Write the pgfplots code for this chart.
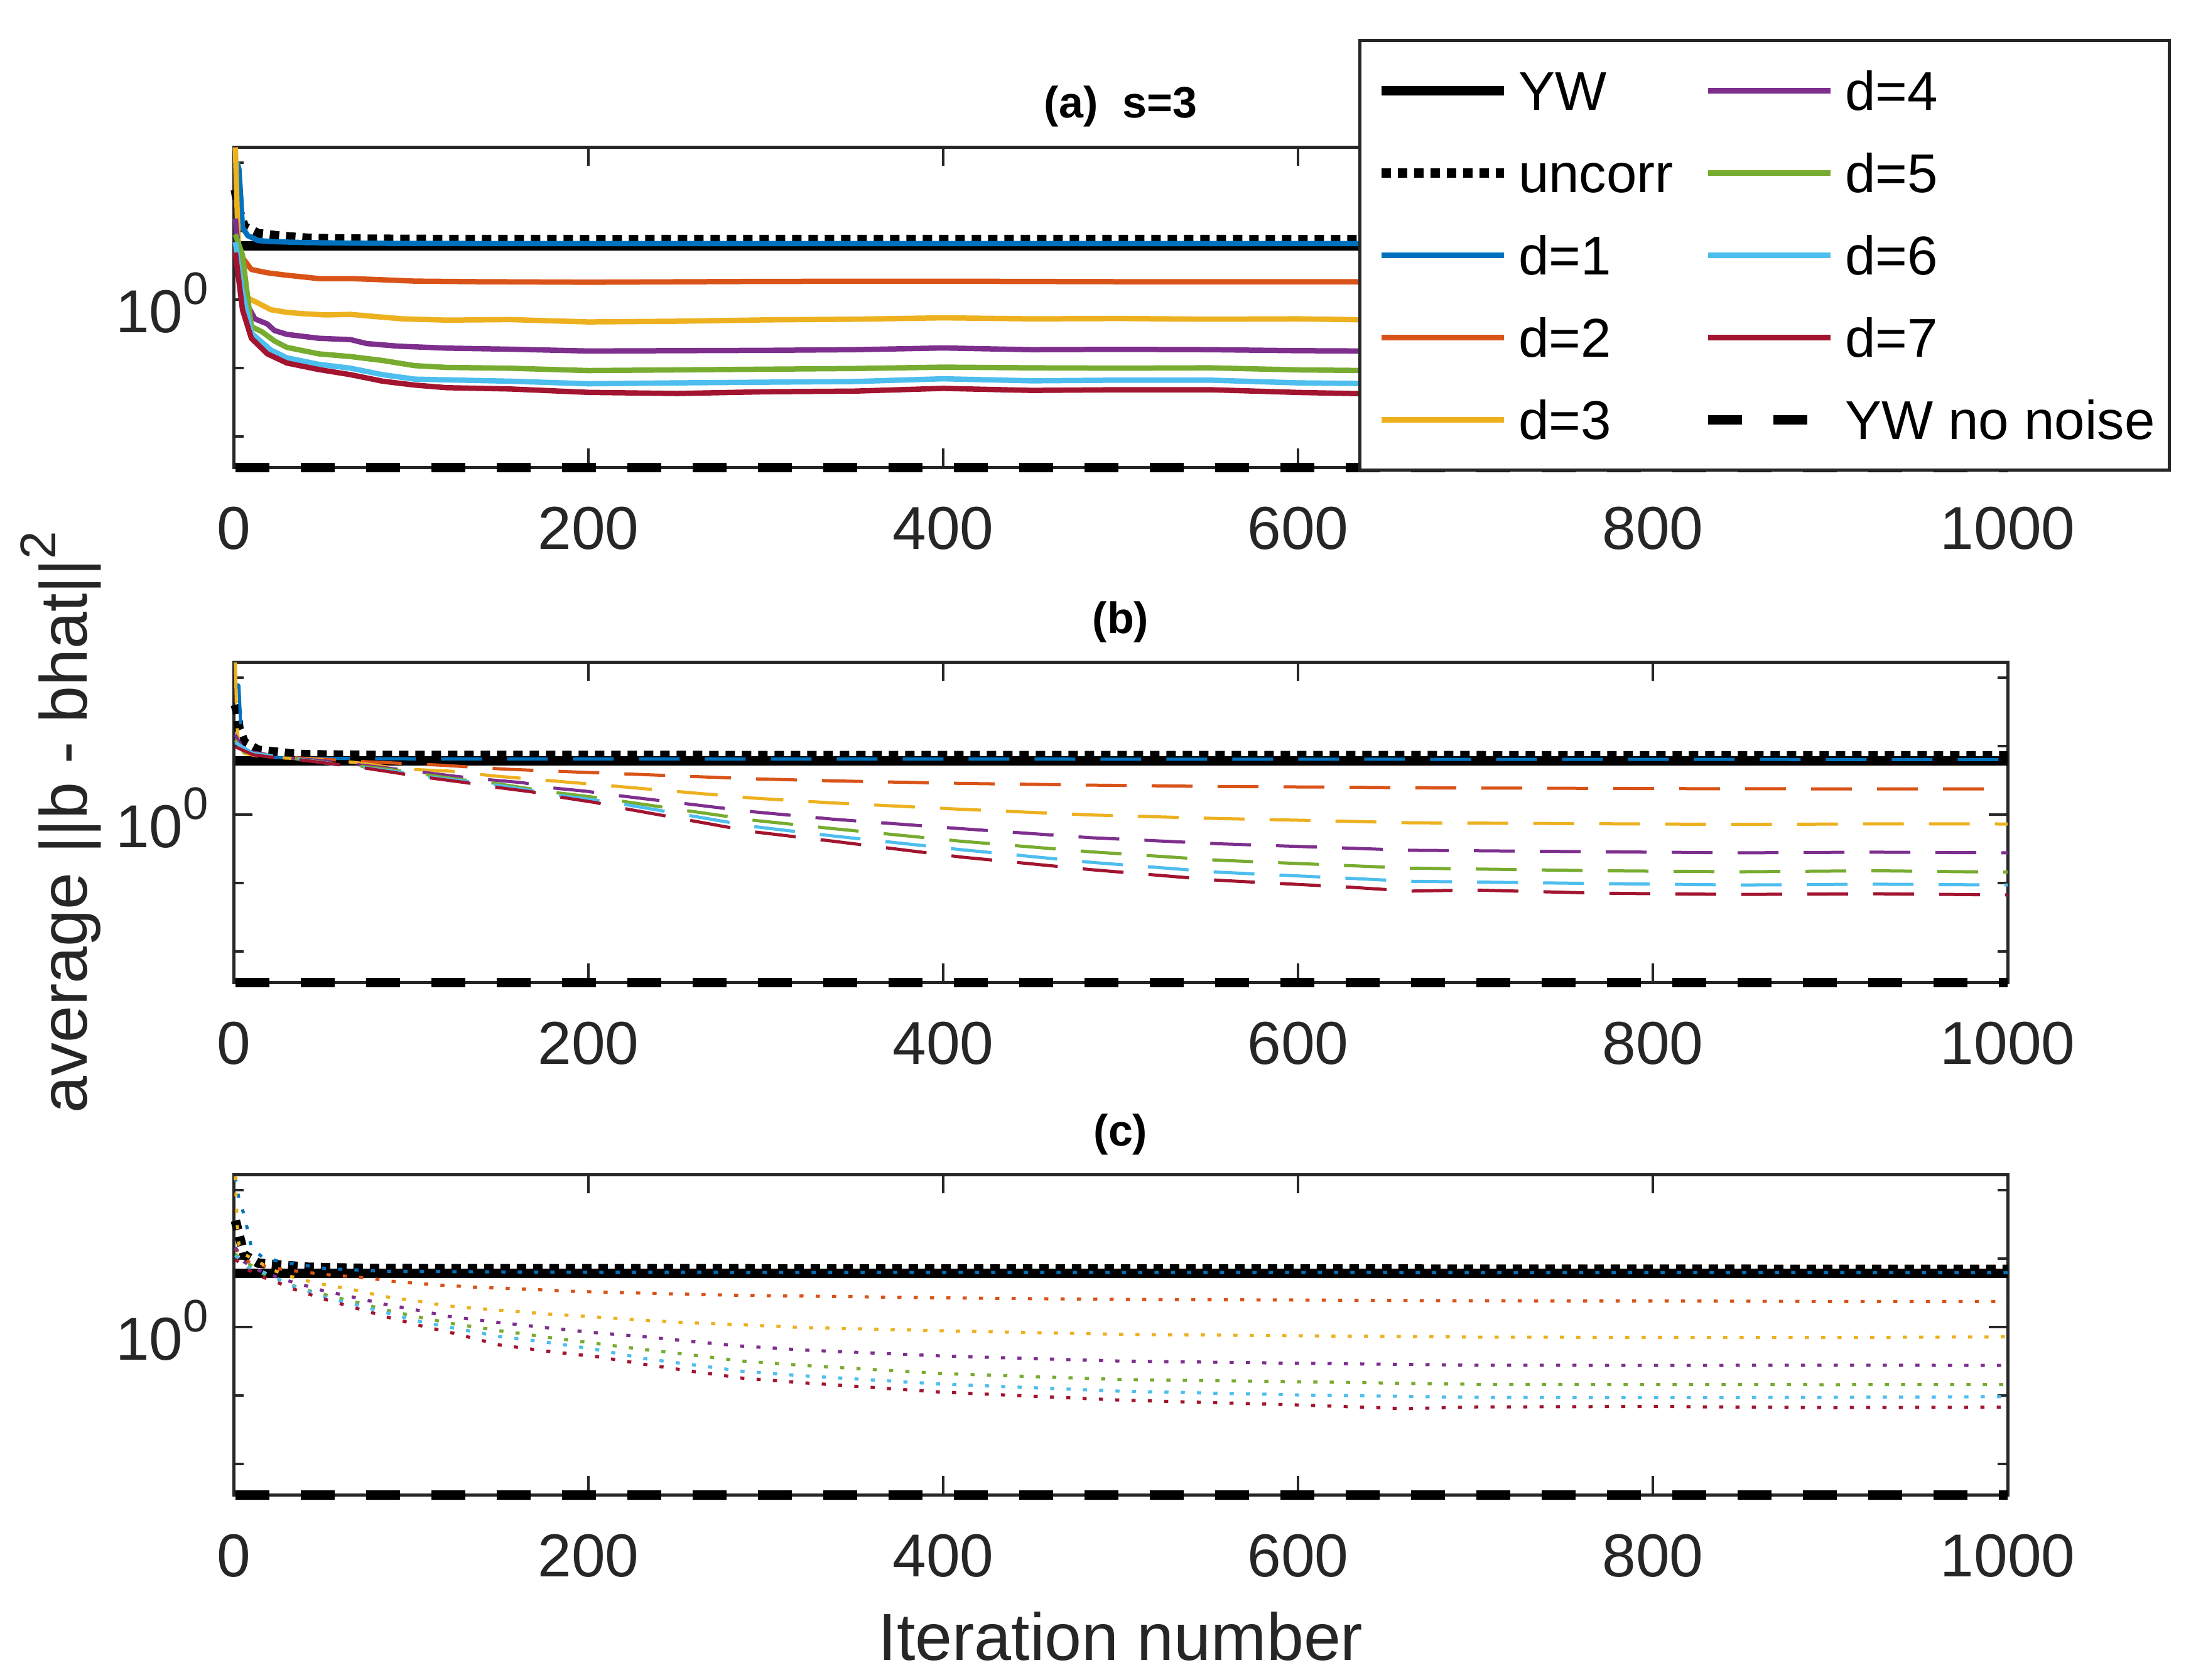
\documentclass[border=0pt]{standalone}
\usepackage{fontspec}
\setmainfont{Liberation Sans}
\usepackage{pgfplots}
\pgfplotsset{compat=1.18}
\definecolor{axgray}{rgb}{0.15,0.15,0.15}
\definecolor{c1}{rgb}{0,0.447,0.741}
\definecolor{c2}{rgb}{0.850,0.325,0.098}
\definecolor{c3}{rgb}{0.929,0.694,0.125}
\definecolor{c4}{rgb}{0.494,0.184,0.556}
\definecolor{c5}{rgb}{0.466,0.674,0.188}
\definecolor{c6}{rgb}{0.301,0.745,0.933}
\definecolor{c7}{rgb}{0.635,0.078,0.184}
\tikzset{
  yw/.style={black, line width=3pt, line join=round},
  unc/.style={black, line width=3pt, dash pattern=on 3pt off 2.2pt},
  ywn/.style={black, line width=3pt, dash pattern=on 10.8pt off 10pt},
  sa/.style={line width=1.7pt, line join=round},
  sb/.style={line width=1.0pt, line join=round, dash pattern=on 13pt off 8pt},
  sc/.style={line width=1.0pt, line join=round, dash pattern=on 1.3pt off 3.9pt},
}
\begin{document}
\begin{tikzpicture}
\useasboundingbox (0,0) rectangle (697.8pt,-534.8pt);
% ---------------- (a)
\begin{axis}[
    scale only axis, width=565pt, height=102pt,
    clip=false,
    xmin=0, xmax=1000,
    ymode=log, ymin=0.003532, ymax=167.9,
    xtick={0,200,400,600,800,1000},
    xticklabels={0,200,400,600,800,1000},
    ytick={1},
    yticklabels={10\raisebox{9pt}{\fontsize{14.5}{14.5}\selectfont 0}},
    minor ytick={0.01,0.1,10,100},
    major tick length=6pt, minor tick length=3.2pt,
    tick align=inside,
    tick style={axgray, line width=0.8pt},
    axis line style={axgray, line width=1pt},
    ticklabel style={font=\fontsize{19.3}{23}\selectfont, text=axgray, inner sep=0pt},
    xticklabel style={anchor=north, yshift=-12.4pt},
    yticklabel style={anchor=east, xshift=-7.8pt, yshift=-1.2pt},
    title style={anchor=base, yshift=3.2pt, inner sep=0pt, font=\bfseries\fontsize{14}{17}\selectfont},
  at={(74.4pt,-46.8pt)}, anchor=north west,
  title={(a)\hspace{7.8pt}s=3},
  legend style={at={(1.09204,1.3373)}, anchor=north east,
    draw=axgray, line width=1pt, fill=white,
    inner xsep=1.4pt, inner ysep=2.9pt,
    font=\fontsize{17.4}{20}\selectfont,
    nodes={inner xsep=3.2pt, inner ysep=0pt, text height=19.33pt, text depth=6.87pt}},
  legend cell align=left,
  legend columns=5, transpose legend,
  legend image code/.code={\path (-4pt,0pt) (39pt,0pt); \draw[#1] (0pt,0pt) -- (39pt,0pt);},
]
\addplot[yw] coordinates {(1,6.0) (1000,6.0)};
\addlegendentry{YW}
\addplot[unc] coordinates {(1,39.8) (3,19.95) (6,11.48) (14,9.1) (24,8.5) (33,8.1) (42,7.8) (59,7.62) (100,7.5) (200,7.45) (400,7.48) (600,7.45) (1000,7.45)};
\addlegendentry{uncorr\hspace*{2.3pt}}
\addplot[c1,sa] coordinates {(2,100) (3,79.4) (4,31.6) (5,11.2) (8,8.51) (14,7.2) (23,6.95) (39,6.75) (66,6.62) (93,6.55) (200,6.5) (400,6.52) (600,6.5) (1000,6.5)};
\addlegendentry{d=1}
\addplot[c2,sa] coordinates {(1,5.25) (5,4.05) (10,2.73) (17,2.50) (21,2.40) (30,2.25) (48,2.01) (66,2.01) (84,1.93) (102,1.845) (138,1.81) (200,1.778) (300,1.828) (400,1.84) (500,1.81) (600,1.81) (640,1.80) (1000,1.778)};
\addlegendentry{d=2}
\addplot[c3,sa] coordinates {(1,166) (2,19.5) (3,4.42) (5,2.20) (8,1.045) (14,0.877) (21,0.705) (30,0.646) (39,0.618) (52,0.592) (66,0.603) (78,0.566) (95,0.519) (120,0.497) (156,0.506) (200,0.468) (250,0.479) (300,0.501) (350,0.513) (400,0.537) (450,0.519) (500,0.525) (550,0.513) (600,0.519) (640,0.501) (1000,0.501)};
\addlegendentry{d=3}
\addplot[c4,sa] coordinates {(1,15.1) (4,2.19) (6,1) (12,0.519) (19,0.437) (23,0.351) (30,0.308) (48,0.270) (66,0.258) (75,0.226) (93,0.207) (120,0.194) (156,0.187) (200,0.176) (250,0.178) (300,0.180) (350,0.184) (400,0.195) (450,0.184) (500,0.186) (550,0.184) (600,0.178) (640,0.176) (1000,0.176)};
\addlegendentry{d=4}
\addplot[c5,sa] coordinates {(1,8.91) (5,4.42) (10,0.400) (16,0.336) (23,0.247) (30,0.199) (48,0.160) (66,0.146) (84,0.128) (102,0.1076) (120,0.1014) (156,0.0986) (200,0.0912) (250,0.0933) (300,0.0955) (350,0.0977) (400,0.1023) (450,0.1) (500,0.0989) (550,0.1) (600,0.0933) (640,0.0912) (1000,0.0912)};
\addlegendentry{d=5}
\addplot[c6,sa] coordinates {(1,6.84) (5,1.259) (10,0.321) (21,0.182) (30,0.140) (48,0.1125) (66,0.0986) (84,0.0794) (102,0.0684) (120,0.0667) (156,0.0638) (200,0.0585) (250,0.0603) (300,0.0617) (350,0.0631) (400,0.0692) (450,0.0646) (500,0.0661) (550,0.0661) (600,0.0603) (640,0.0589) (1000,0.0589)};
\addlegendentry{d=6}
\addplot[c7,sa] coordinates {(1,4.82) (5,0.705) (10,0.270) (19,0.160) (30,0.1175) (48,0.0944) (66,0.0794) (84,0.0638) (102,0.0560) (120,0.0513) (156,0.0491) (200,0.0438) (250,0.0422) (300,0.0447) (350,0.0457) (400,0.0501) (450,0.0468) (500,0.0479) (550,0.0479) (600,0.0437) (640,0.0417) (1000,0.0417)};
\addlegendentry{d=7}
\addplot[ywn] coordinates {(1,0.003532) (1000,0.003532)};
\addlegendentry{YW no noise}
\end{axis}
% ---------------- (b)
\begin{axis}[
    scale only axis, width=565pt, height=102pt,
    clip=false,
    xmin=0, xmax=1000,
    ymode=log, ymin=0.003532, ymax=167.9,
    xtick={0,200,400,600,800,1000},
    xticklabels={0,200,400,600,800,1000},
    ytick={1},
    yticklabels={10\raisebox{9pt}{\fontsize{14.5}{14.5}\selectfont 0}},
    minor ytick={0.01,0.1,10,100},
    major tick length=6pt, minor tick length=3.2pt,
    tick align=inside,
    tick style={axgray, line width=0.8pt},
    axis line style={axgray, line width=1pt},
    ticklabel style={font=\fontsize{19.3}{23}\selectfont, text=axgray, inner sep=0pt},
    xticklabel style={anchor=north, yshift=-12.4pt},
    yticklabel style={anchor=east, xshift=-7.8pt, yshift=-1.2pt},
    title style={anchor=base, yshift=3.2pt, inner sep=0pt, font=\bfseries\fontsize{14}{17}\selectfont},
  at={(74.4pt,-210.8pt)}, anchor=north west,
  title={(b)},
  ylabel={average ||b - bhat||\raisebox{10pt}{\fontsize{16}{16}\selectfont 2}},
  ylabel style={at={(axis description cs:-0.08283,0.5)}, anchor=base,
    font=\fontsize{21.2}{25}\selectfont, text=axgray},
]
\addplot[yw] coordinates {(1,6.0) (1000,6.0)};
\addplot[unc] coordinates {(1,39.8) (2,31.6) (3,17.8) (6,11.2) (14,8.61) (24,8.09) (33,7.59) (43,7.41) (80,7.24) (1000,7.16)};
\addplot[c1,sb] coordinates {(2,79.4) (3,75.9) (4,20.4) (6,9.25) (11,7.74) (22,6.79) (38,6.61) (100,6.46) (1000,6.31)};
\addplot[c2,sb] coordinates {(1,12.02) (6,8.09) (22,6.98) (54,6.31) (69,5.96) (85,5.70) (117,5.22) (153,4.57) (189,4.19) (216,3.94) (293,3.30) (338,3.08) (410,2.83) (483,2.67) (555,2.55) (627,2.49) (663,2.44) (771,2.39) (848,2.36) (1000,2.355)};
\addplot[c3,sb] coordinates {(1,166) (1.5,44.7) (2,18.6) (3,10) (6,7.74) (14,7.08) (27,6.67) (38,6.50) (54,6.22) (69,5.70) (85,4.99) (101,4.53) (122,4.27) (148,3.61) (180,3.08) (211,2.63) (293,1.726) (338,1.466) (410,1.186) (483,0.979) (555,0.869) (627,0.793) (663,0.753) (771,0.728) (848,0.713) (925,0.724) (1000,0.723)};
\addplot[c4,sb] coordinates {(1,14.45) (6,8.51) (30,6.67) (46,6.22) (69,5.36) (85,4.79) (104,4.19) (126,3.57) (140,3.27) (163,2.90) (177,2.47) (199,2.17) (213,1.93) (293,1.089) (338,0.849) (410,0.618) (483,0.456) (555,0.372) (627,0.322) (663,0.2985) (771,0.284) (848,0.274) (925,0.280) (1000,0.274)};
\addplot[c5,sb] coordinates {(1,12.0) (6,8.09) (35,6.50) (57,5.46) (73,4.99) (92,4.38) (109,3.77) (128,3.22) (145,2.90) (164,2.43) (182,2.07) (200,1.82) (218,1.567) (293,0.820) (338,0.618) (410,0.405) (483,0.284) (555,0.214) (627,0.179) (663,0.164) (771,0.150) (848,0.145) (925,0.150) (1000,0.143)};
\addplot[c6,sb] coordinates {(1,11.2) (11,7.74) (35,6.50) (57,5.36) (74,4.79) (92,4.19) (110,3.52) (129,3.08) (147,2.70) (166,2.26) (183,1.90) (200,1.663) (218,1.432) (293,0.664) (338,0.483) (410,0.305) (483,0.1995) (555,0.143) (627,0.117) (663,0.1054) (771,0.0975) (848,0.0929) (925,0.0955) (1000,0.0929)};
\addplot[c7,sb] coordinates {(1,9.66) (11,7.41) (22,6.79) (38,6.22) (58,5.36) (73,4.79) (95,3.91) (109,3.45) (131,2.90) (145,2.54) (168,2.13) (182,1.82) (204,1.486) (218,1.245) (293,0.556) (338,0.405) (410,0.238) (483,0.156) (555,0.109) (627,0.0871) (663,0.0757) (699,0.0785) (771,0.0705) (848,0.0676) (925,0.0692) (1000,0.0665)};
\addplot[ywn] coordinates {(1,0.003532) (1000,0.003532)};
\end{axis}
% ---------------- (c)
\begin{axis}[
    scale only axis, width=565pt, height=102pt,
    clip=false,
    xmin=0, xmax=1000,
    ymode=log, ymin=0.003532, ymax=167.9,
    xtick={0,200,400,600,800,1000},
    xticklabels={0,200,400,600,800,1000},
    ytick={1},
    yticklabels={10\raisebox{9pt}{\fontsize{14.5}{14.5}\selectfont 0}},
    minor ytick={0.01,0.1,10,100},
    major tick length=6pt, minor tick length=3.2pt,
    tick align=inside,
    tick style={axgray, line width=0.8pt},
    axis line style={axgray, line width=1pt},
    ticklabel style={font=\fontsize{19.3}{23}\selectfont, text=axgray, inner sep=0pt},
    xticklabel style={anchor=north, yshift=-12.4pt},
    yticklabel style={anchor=east, xshift=-7.8pt, yshift=-1.2pt},
    title style={anchor=base, yshift=3.2pt, inner sep=0pt, font=\bfseries\fontsize{14}{17}\selectfont},
  at={(74.4pt,-374pt)}, anchor=north west,
  title={(c)},
  xlabel={Iteration number},
  xlabel style={at={(axis description cs:0.5,0)}, anchor=base, yshift=-52.6pt,
    font=\fontsize{21.2}{25}\selectfont, text=axgray},
]
\addplot[yw] coordinates {(1,6.0) (1000,6.0)};
\addplot[unc] coordinates {(1,35.5) (4,17.8) (6,11.2) (14,8.51) (23,8.13) (42,7.41) (80,7.08) (1000,6.9)};
\addplot[c1,sc] coordinates {(1,151) (3,72.4) (6,42.7) (8,25.1) (10,14.45) (16,10.5) (25,9.12) (34,8.32) (52,7.08) (87,6.46) (200,6.24) (1000,6.17)};
\addplot[c2,sc] coordinates {(1,13.8) (8,8.91) (17,7.76) (26,7.00) (35,6.52) (45,6.08) (54,5.73) (63,5.48) (72,5.25) (81,4.93) (90,4.60) (99,4.41) (118,4.04) (136,3.80) (155,3.63) (173,3.47) (191,3.30) (219,3.16) (247,3.03) (274,2.92) (302,2.85) (400,2.65) (500,2.51) (600,2.46) (700,2.40) (800,2.39) (900,2.34) (1000,2.34)};
\addplot[c3,sc] coordinates {(1,158.5) (2,31.6) (3,15.85) (6,11.48) (14,8.91) (22,6.76) (31,5.57) (40,4.79) (49,4.22) (66,3.55) (85,2.77) (103,2.39) (121,2.01) (148,1.762) (176,1.545) (204,1.393) (231,1.245) (259,1.140) (286,1.072) (322,0.975) (400,0.875) (500,0.776) (600,0.740) (700,0.708) (800,0.701) (900,0.700) (1000,0.713)};
\addplot[c4,sc] coordinates {(1,14.45) (6,8.85) (14,6.70) (23,5.48) (31,4.68) (40,4.04) (49,3.45) (67,2.73) (85,2.14) (103,1.762) (121,1.419) (148,1.17) (176,0.975) (203,0.826) (231,0.718) (259,0.608) (286,0.525) (322,0.457) (400,0.375) (500,0.316) (600,0.294) (700,0.275) (800,0.273) (900,0.275) (1000,0.273)};
\addplot[c5,sc] coordinates {(1,11.48) (16,6.08) (25,5.01) (33,4.04) (42,3.39) (51,2.97) (69,2.29) (87,1.734) (105,1.380) (123,1.119) (150,0.877) (177,0.705) (205,0.568) (232,0.465) (260,0.383) (287,0.316) (324,0.270) (400,0.2075) (500,0.170) (600,0.158) (700,0.1445) (800,0.1435) (900,0.143) (1000,0.1435)};
\addplot[c6,sc] coordinates {(1,10.96) (8,7.41) (17,6.24) (34,3.86) (42,3.30) (51,2.73) (69,2.10) (87,1.585) (105,1.191) (123,0.975) (150,0.718) (177,0.593) (205,0.4645) (232,0.342) (260,0.277) (287,0.224) (324,0.1905) (400,0.1455) (500,0.1148) (600,0.1014) (700,0.0933) (800,0.0923) (900,0.0933) (1000,0.0957)};
\addplot[c7,sc] coordinates {(1,9.66) (8,6.81) (17,5.25) (26,4.30) (34,3.54) (43,2.97) (52,2.50) (70,1.841) (87,1.380) (105,1.045) (123,0.818) (150,0.543) (178,0.4365) (205,0.3664) (232,0.2825) (260,0.2213) (287,0.1778) (324,0.1507) (400,0.1109) (500,0.0851) (600,0.0723) (660,0.0638) (700,0.0676) (800,0.0687) (900,0.0661) (1000,0.0671)};
\addplot[ywn] coordinates {(1,0.003532) (1000,0.003532)};
\end{axis}
\end{tikzpicture}
\end{document}
